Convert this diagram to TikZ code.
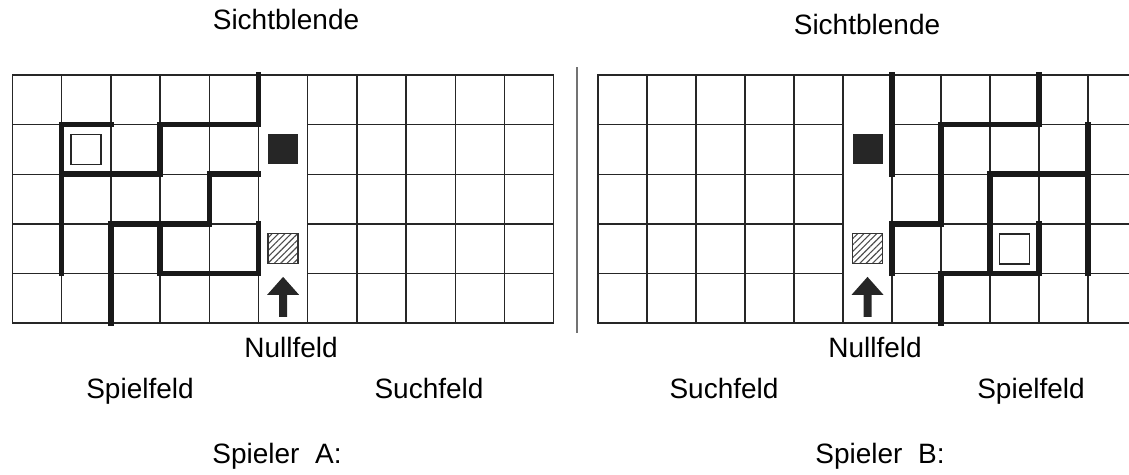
\documentclass[tikz,border=0pt]{standalone}
\usepackage{fontspec}
\setmainfont{Liberation Sans}
\usetikzlibrary{patterns.meta}

\begin{document}
\begin{tikzpicture}[
  x=1pt, y=-1pt,
  cell/.style={draw=black!85, line width=1.4pt},
  wall/.style={draw=black!90, line width=5.5pt, line cap=rect},
  tag/.style={font=\fontsize{28}{32}\selectfont, anchor=base, inner sep=0pt},
  stone/.style={minimum size=30pt, inner sep=0pt, fill=black!85},
  hatch/.style={minimum size=30pt, inner sep=0pt, draw=black!80, line width=1.3pt, pattern={Lines[angle=45, distance=4.5pt, line width=1.1pt]}, pattern color=black!70},
  goal/.style={minimum size=30pt, inner sep=0pt, draw=black!85, line width=1.8pt},
  divider/.style={draw=black!55, line width=1.5pt}
]
\useasboundingbox (0,0) rectangle (1129,474);

\begin{scope}[shift={(12.5,75)}, x=49.2pt, y=-49.6pt]
  \draw[cell] (0,0) rectangle (11,5);
  \foreach \i in {1,...,10} \draw[cell] (\i,0) -- (\i,5);
  \foreach \j in {1,...,4} {\draw[cell] (0,\j) -- (5,\j); \draw[cell] (6,\j) -- (11,\j);}
  \draw[wall] (5,0) -- (5,1) -- (3,1) -- (3,2) -- (1,2);
  \draw[wall] (2,1) -- (1,1) -- (1,4);
  \draw[wall] (5,2) -- (4,2) -- (4,3) -- (2,3) -- (2,5);
  \draw[wall] (3,3) -- (3,4) -- (5,4) -- (5,3);
  \node[goal] (goalA) at (1.5,1.5) {};
  \node[stone] (stoneA) at (5.5,1.5) {};
  \node[hatch] (hatchA) at (5.5,3.5) {};
  \coordinate (tipA) at (5.5,4.07);
  \fill[black!85] (tipA) -- +(16pt,-18pt) -- +(4pt,-18pt) -- +(4pt,-40pt) -- +(-4pt,-40pt) -- +(-4pt,-18pt) -- +(-16pt,-18pt) -- cycle;
\end{scope}

\begin{scope}[shift={(598,75)}, x=49pt, y=-49.6pt]
  \draw[cell] (0,0) rectangle (11,5);
  \foreach \i in {1,...,10} \draw[cell] (\i,0) -- (\i,5);
  \foreach \j in {1,...,4} {\draw[cell] (0,\j) -- (5,\j); \draw[cell] (6,\j) -- (11,\j);}
  \draw[wall] (6,0) -- (6,2);
  \draw[wall] (9,0) -- (9,1) -- (7,1) -- (7,3) -- (6,3) -- (6,4);
  \draw[wall] (7,5) -- (7,4) -- (9,4) -- (9,3);
  \draw[wall] (10,1) -- (10,4);
  \draw[wall] (10,2) -- (8,2) -- (8,4);
  \node[goal] (goalB) at (8.5,3.5) {};
  \node[stone] (stoneB) at (5.5,1.5) {};
  \node[hatch] (hatchB) at (5.5,3.5) {};
  \coordinate (tipB) at (5.5,4.07);
  \fill[black!85] (tipB) -- +(16pt,-18pt) -- +(4pt,-18pt) -- +(4pt,-40pt) -- +(-4pt,-40pt) -- +(-4pt,-18pt) -- +(-16pt,-18pt) -- cycle;
\end{scope}

\draw[divider] (577,67) -- (577,333);

\node[tag] (sichtA) at (286,29) {Sichtblende};
\node[tag] (sichtB) at (867,34) {Sichtblende};
\node[tag] (nullA) at (291,357) {Nullfeld};
\node[tag] (nullB) at (875,357) {Nullfeld};
\node[tag] (spielA) at (140,398) {Spielfeld};
\node[tag] (suchA) at (429,398) {Suchfeld};
\node[tag] (suchB) at (724,398) {Suchfeld};
\node[tag] (spielB) at (1031,398) {Spielfeld};
\node[tag] (spielerA) at (277,463) {Spieler\ \ A:};
\node[tag] (spielerB) at (880,463) {Spieler\ \ B:};
\end{tikzpicture}
\end{document}
